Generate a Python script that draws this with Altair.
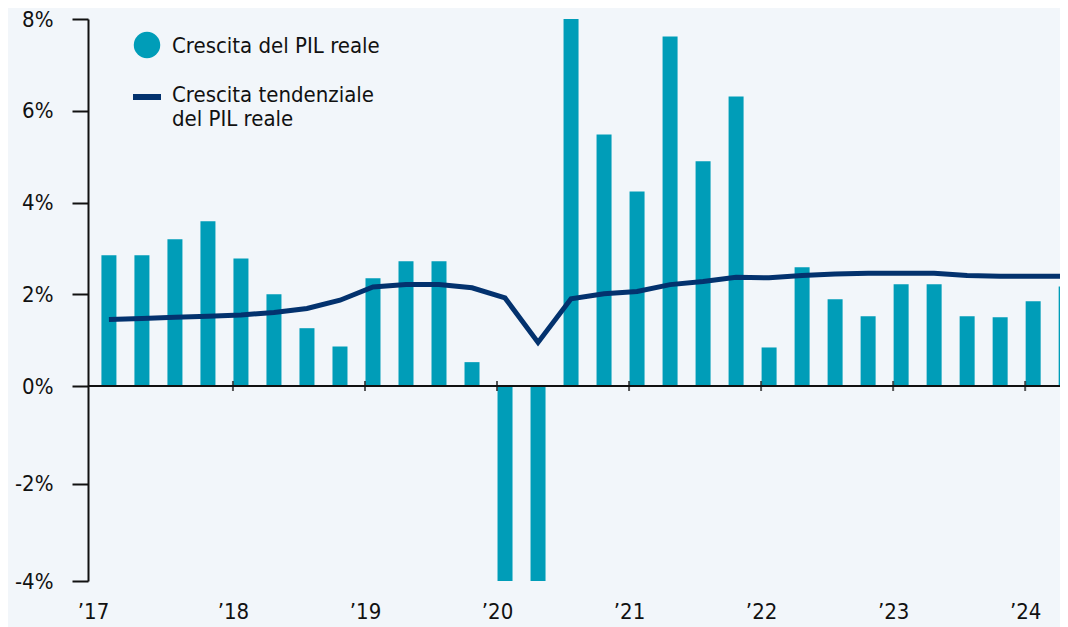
import altair as alt
import pandas as pd

# ---- data ----
quarters = [
    "2017-Q1", "2017-Q2", "2017-Q3", "2017-Q4",
    "2018-Q1", "2018-Q2", "2018-Q3", "2018-Q4",
    "2019-Q1", "2019-Q2", "2019-Q3", "2019-Q4",
    "2020-Q1", "2020-Q2", "2020-Q3", "2020-Q4",
    "2021-Q1", "2021-Q2", "2021-Q3", "2021-Q4",
    "2022-Q1", "2022-Q2", "2022-Q3", "2022-Q4",
    "2023-Q1", "2023-Q2", "2023-Q3", "2023-Q4",
    "2024-Q1", "2024-Q2",
]
# quarterly real GDP growth (%), bars (2020 Q1-Q3 run off the axis range)
gdp_growth = [
    2.85, 2.85, 3.20, 3.59,
    2.78, 2.00, 1.26, 0.86,
    2.35, 2.72, 2.72, 0.52,
    -5.3, -28.0, 34.8, 5.48,
    4.24, 7.62, 4.90, 6.31,
    0.84, 2.59, 1.89, 1.52,
    2.22, 2.22, 1.52, 1.50,
    1.85, 2.17,
]
# trend real GDP growth (%), line
trend_growth = [
    1.45, 1.47, 1.50, 1.52,
    1.55, 1.60, 1.69, 1.87,
    2.16, 2.21, 2.21, 2.14,
    1.92, 0.95, 1.90, 2.01,
    2.06, 2.21, 2.28, 2.37,
    2.36, 2.41, 2.44, 2.46,
    2.46, 2.46, 2.41, 2.39,
    2.39, 2.39,
]
year_ticks = [2018, 2019, 2020, 2021, 2022, 2023, 2024]
y_ticks = [-4, -2, 0, 2, 4, 6, 8]
legend_bar_label = "Crescita del PIL reale"
legend_line_label = ["Crescita tendenziale", "del PIL reale"]

BAR = "#009db8"
LINE = "#03326e"
BG = "#f2f6fa"
FONT = "Liberation Sans Narrow, DejaVu Sans Condensed, sans-serif"

def q_to_year(q):
    y, qq = q.split("-Q")
    return int(y) + (int(qq) - 1) / 4.0

df = pd.DataFrame({
    "t": [q_to_year(q) for q in quarters],
    "gdp": gdp_growth,
    "trend": trend_growth,
})
ticks_df = pd.DataFrame({"year": year_ticks, "zero": [0] * len(year_ticks)})

x_dom = [2016.94, 2024.226]
xscale = alt.Scale(domain=x_dom, nice=False, zero=False)
yscale = alt.Scale(domain=[-4, 0, 8], range=[562, 367, 0], nice=False, zero=False)

base = alt.Chart(df)

bars = base.mark_bar(color=BAR, size=15, xOffset=8, clip=True).encode(
    x=alt.X("t:Q", scale=xscale,
            axis=alt.Axis(values=[x_dom[0]] + year_ticks, title=None, ticks=False, domain=False,
                          grid=False, labelFlush=False, labelOverlap=False,
                          labelExpr="'\u2019' + substring(toString(round(datum.value)), 2, 4)",
                          labelFontSize=22, labelFont=FONT, labelColor="#111111",
                          labelPadding=20)),
    y=alt.Y("gdp:Q", scale=yscale,
            axis=alt.Axis(values=y_ticks, title=None, grid=False,
                          labelExpr="datum.value + '%'",
                          labelFontSize=22, labelFont=FONT, labelColor="#111111",
                          labelPadding=19, tickSize=16, tickWidth=2, tickColor="#111111",
                          domainColor="#111111", domainWidth=2)),
    y2=alt.datum(0),
)

zero_line = alt.Chart(alt.Data(values=[{}])).mark_rule(color="#111111", strokeWidth=2).encode(
    y=alt.datum(0, scale=yscale)
)

year_marks = alt.Chart(ticks_df).mark_tick(orient="vertical", size=10, thickness=2,
                                            color="#111111").encode(
    x=alt.X("year:Q", scale=xscale),
    y=alt.Y("zero:Q", scale=yscale),
)

line = base.mark_line(color=LINE, strokeWidth=5, xOffset=8, clip=True).encode(
    x=alt.X("t:Q", scale=xscale),
    y=alt.Y("trend:Q", scale=yscale),
)

one = alt.Data(values=[{}])
leg_dot = alt.Chart(one).mark_point(filled=True, shape="circle", size=700, color=BAR, opacity=1).encode(
    x=alt.value(59), y=alt.value(26))
leg_text1 = alt.Chart(one).mark_text(align="left", baseline="middle", fontSize=22, font=FONT,
                                     color="#111111").encode(
    x=alt.value(84), y=alt.value(27), text=alt.value(legend_bar_label))
leg_bar = alt.Chart(one).mark_rule(color=LINE, strokeWidth=6).encode(
    x=alt.value(45), x2=alt.value(73), y=alt.value(78))
leg_text2 = alt.Chart(one).mark_text(align="left", baseline="middle", fontSize=22, font=FONT,
                                     color="#111111", lineHeight=24).encode(
    x=alt.value(84), y=alt.value(76), text=alt.value(legend_line_label))

chart = alt.layer(bars, zero_line, year_marks, line, leg_dot, leg_text1, leg_bar, leg_text2).properties(
    width=972, height=562,
    autosize=alt.AutoSizeParams(type="none"),
    padding={"left": 80, "top": 11, "right": 0, "bottom": 46},
    background=BG,
).configure_view(stroke=None)

chart.save("out.html", embed_options={"renderer": "svg", "actions": False})
